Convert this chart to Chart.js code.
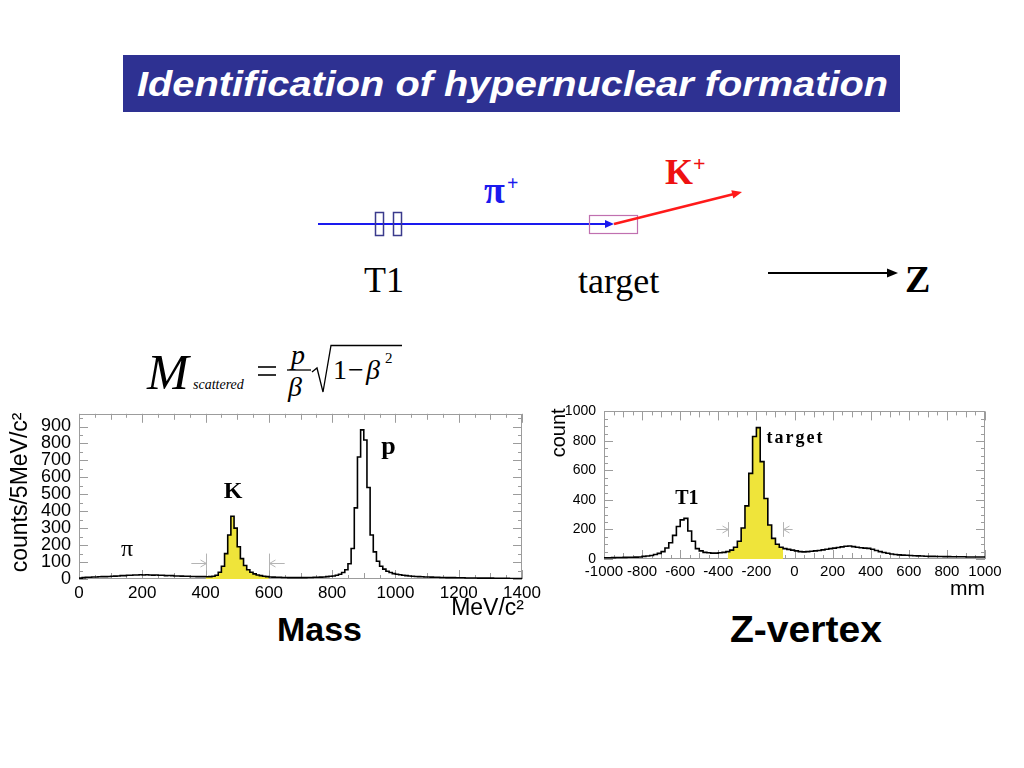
<!DOCTYPE html>
<html><head><meta charset="utf-8">
<script src="https://cdn.jsdelivr.net/npm/chart.js@4"></script>
<style>
body{margin:0;width:1024px;height:768px;background:#fff;position:relative;overflow:hidden;font-family:"Liberation Sans",Arial,sans-serif}
svg{position:absolute;left:0;top:0}
#c1{position:absolute;left:0;top:395px}
#c2{position:absolute;left:540px;top:395px}
</style></head><body>
<svg width="1024" height="768" xmlns="http://www.w3.org/2000/svg">
  <rect x="123" y="55" width="777" height="57" fill="#2e3192"/>
  <text x="137" y="96" fill="#fff" font-family="Liberation Sans, Arial" font-weight="bold" font-style="italic" font-size="35" textLength="751" lengthAdjust="spacingAndGlyphs">Identification of hypernuclear formation</text>

  <line x1="318" y1="224" x2="606" y2="224" stroke="#1a1aee" stroke-width="2"/>
  <polygon points="605,220 614,224 605,228" fill="#1a1aee"/>
  <rect x="375.5" y="212.5" width="8" height="23" fill="none" stroke="#3a3a8c" stroke-width="1.5"/>
  <rect x="393.5" y="212.5" width="8" height="23" fill="none" stroke="#3a3a8c" stroke-width="1.5"/>
  <rect x="589.5" y="215.5" width="48" height="18" fill="none" stroke="#c070b0" stroke-width="1.2"/>
  <line x1="614" y1="224" x2="733" y2="194.3" stroke="#ff1a1a" stroke-width="2.5"/>
  <polygon points="742,192 733.3,198.6 731.3,190.3" fill="#ff1a1a"/>
  <text x="484" y="203" font-family="Liberation Serif, Times New Roman" font-weight="bold" font-size="38" fill="#1a1aee">π</text>
  <text x="507" y="190" font-family="Liberation Serif, Times New Roman" font-weight="bold" font-size="20" fill="#1a1aee">+</text>
  <text x="665" y="184" font-family="Liberation Serif, Times New Roman" font-weight="bold" font-size="36" fill="#ee1111">K</text>
  <text x="693" y="171" font-family="Liberation Serif, Times New Roman" font-weight="bold" font-size="22" fill="#ee1111">+</text>
  <text x="364" y="292" font-family="Liberation Serif, Times New Roman" font-size="36" fill="#000">T1</text>
  <text x="578" y="293" font-family="Liberation Serif, Times New Roman" font-size="36" fill="#000">target</text>
  <line x1="768" y1="273" x2="889" y2="273" stroke="#000" stroke-width="2"/>
  <polygon points="887,268.5 898,273 887,277.5" fill="#000"/>
  <text x="905" y="292" font-family="Liberation Serif, Times New Roman" font-weight="bold" font-size="38" fill="#000">Z</text>

  <g font-family="Liberation Serif, Times New Roman" fill="#000">
    <text x="147" y="389" font-style="italic" font-size="50">M</text>
    <text x="193" y="389" font-style="italic" font-size="14">scattered</text>
    <line x1="258" y1="367" x2="276" y2="367" stroke="#000" stroke-width="1.6"/>
    <line x1="258" y1="375" x2="276" y2="375" stroke="#000" stroke-width="1.6"/>
    <text x="291" y="364" font-style="italic" font-size="28">p</text>
    <line x1="287" y1="370" x2="311" y2="370" stroke="#000" stroke-width="1.3"/>
    <text x="288" y="396" font-style="italic" font-size="28">β</text>
    <path d="M312,372 L317,368 L323,392 L331,345.5 L402,345.5" fill="none" stroke="#000" stroke-width="1.3"/>
    <text x="333" y="379" font-size="28">1</text>
    <text x="348" y="379" font-size="28">−</text>
    <text x="366" y="379" font-style="italic" font-size="28">β</text>
    <text x="385" y="363" font-size="15">2</text>
  </g>

  <text x="277" y="641" font-family="Liberation Sans, Arial" font-weight="bold" font-size="33" textLength="85" lengthAdjust="spacingAndGlyphs">Mass</text>
  <text x="730" y="642" font-family="Liberation Sans, Arial" font-weight="bold" font-size="36" textLength="152" lengthAdjust="spacingAndGlyphs">Z-vertex</text>
</svg>
<canvas id="c1" width="545" height="230"></canvas>
<canvas id="c2" width="480" height="215"></canvas>
<script>
// ---------- data ----------
const massBinStart = 0;      // MeV/c^2
const massBinWidth = 10;
const massCounts = [
  5, 8, 10, 10, 12, 12, 13, 14, 14, 15,
  16, 17, 18, 20, 20, 22, 22, 24, 24, 25,
  24, 25, 24, 23, 24, 22, 22, 20, 21, 20,
  18, 18, 17, 16, 16, 15, 15, 14, 14, 14,
  13, 14, 16, 22, 40, 75, 150, 260, 370, 300,
  190, 120, 80, 55, 40, 30, 24, 20, 16, 14,
  12, 11, 10, 10, 9, 9, 8, 8, 8, 8,
  8, 8, 9, 9, 10, 10, 11, 12, 14, 16,
  18, 22, 28, 38, 55, 90, 180, 420, 720, 880,
  820, 540, 260, 160, 105, 75, 58, 46, 38, 32,
  28, 25, 22, 20, 18, 16, 15, 14, 13, 12,
  12, 11, 10, 10, 9, 9, 8, 8, 8, 7,
  7, 7, 6, 6, 6, 6, 5, 5, 5, 5,
  5, 4, 4, 4, 4, 4, 3, 3, 3, 3
];
const massCut = [400, 600];
const massXTicks = [0, 200, 400, 600, 800, 1000, 1200, 1400];
const massYTicks = [0, 100, 200, 300, 400, 500, 600, 700, 800, 900];

const zBinStart = -1000;     // mm
const zBinWidth = 20;
const zCounts = [
  8, 8, 9, 10, 10, 11, 12, 12, 13, 14,
  18, 20, 24, 30, 38, 50, 75, 110, 160, 220,
  265, 275, 190, 120, 70, 55, 45, 42, 40, 40,
  42, 45, 50, 60, 80, 120, 210, 360, 580, 830,
  890, 660, 410, 230, 140, 100, 80, 70, 65, 60,
  55, 50, 48, 50, 52, 55, 58, 62, 66, 70,
  74, 78, 82, 86, 88, 84, 80, 76, 74, 72,
  66, 58, 50, 44, 39, 34, 30, 28, 26, 25,
  24, 22, 21, 20, 19, 18, 18, 17, 17, 16,
  16, 15, 15, 15, 15, 14, 14, 14, 14, 14
];
const zCut = [-350, -60];
const zXTicks = [-1000, -800, -600, -400, -200, 0, 200, 400, 600, 800, 1000];
const zYTicks = [0, 200, 400, 600, 800, 1000];

// ---------- helpers ----------
function histPoints(start, w, counts) {
  const pts = counts.map((c, i) => ({x: start + i * w, y: c}));
  pts.push({x: start + counts.length * w, y: counts[counts.length - 1]});
  return pts;
}
function cutPoints(start, w, counts, lo, hi) {
  const pts = [];
  counts.forEach((c, i) => {
    const a = start + i * w, b = a + w;
    if (b > lo && a < hi) pts.push({x: Math.max(a, lo), y: c});
  });
  pts.push({x: hi, y: pts[pts.length - 1].y});
  return pts;
}

function decorPlugin(o) {
  return {
    id: 'decor',
    beforeDatasetsDraw(chart) {
      const {ctx, chartArea: a} = chart;
      const x = chart.scales.x, y = chart.scales.y;
      ctx.save();
      ctx.strokeStyle = '#9c9c9c';
      ctx.lineWidth = 1;
      ctx.strokeRect(Math.round(a.left) + 0.5, Math.round(a.top) + 0.5,
                     Math.round(a.right - a.left) - 1, Math.round(a.bottom - a.top) - 1);
      ctx.beginPath();
      for (let v = x.min; v <= x.max + 1e-6; v += o.xMinor) {
        const px = Math.round(x.getPixelForValue(v)) + 0.5;
        const L = Math.abs(v % o.xMajor) < 1e-6 ? 9 : (Math.abs(v % (o.xMajor / 2)) < 1e-6 ? 6 : 4);
        ctx.moveTo(px, a.bottom); ctx.lineTo(px, a.bottom - L);
        ctx.moveTo(px, a.top); ctx.lineTo(px, a.top + L);
      }
      for (let v = y.min; v <= y.max + 1e-6; v += o.yMinor) {
        const py = Math.round(y.getPixelForValue(v)) + 0.5;
        const L = Math.abs(v % o.yMajor) < 1e-6 ? 9 : 4;
        ctx.moveTo(a.left, py); ctx.lineTo(a.left + L, py);
        ctx.moveTo(a.right, py); ctx.lineTo(a.right - L, py);
      }
      ctx.stroke();
      // cut markers
      ctx.strokeStyle = '#b4b4b4';
      o.cuts.forEach(c => {
        const px = Math.round(x.getPixelForValue(c.v)) + 0.5;
        const y0 = y.getPixelForValue(c.yLo), y1 = y.getPixelForValue(c.yHi);
        const ym = Math.round(y.getPixelForValue(c.yArr)) + 0.5;
        const pe = x.getPixelForValue(c.v + c.dir * c.len);
        ctx.beginPath();
        ctx.moveTo(px, y0); ctx.lineTo(px, y1);
        ctx.moveTo(pe, ym); ctx.lineTo(px, ym);
        const s = c.dir;
        ctx.moveTo(px + s * 6, ym - 3.5); ctx.lineTo(px, ym); ctx.lineTo(px + s * 6, ym + 3.5);
        ctx.stroke();
      });
      ctx.restore();
    },
    afterDatasetsDraw(chart) {
      const {ctx, chartArea: a} = chart;
      const x = chart.scales.x, y = chart.scales.y;
      ctx.save();
      ctx.fillStyle = '#000';
      o.labels.forEach(l => {
        ctx.font = l.font;
        ctx.letterSpacing = l.ls || '0px';
        ctx.textAlign = 'center';
        ctx.textBaseline = 'alphabetic';
        ctx.fillText(l.t, x.getPixelForValue(l.x), y.getPixelForValue(l.y));
      });
      ctx.letterSpacing = '0px';
      // axis titles
      ctx.font = o.xTitleFont;
      ctx.textAlign = 'right';
      ctx.textBaseline = 'alphabetic';
      ctx.fillText(o.xTitle, a.right + o.xTitleDx, a.bottom + o.xTitleDy);
      ctx.save();
      ctx.font = o.yTitleFont;
      ctx.translate(o.yTitleX, o.yTitleAlign === 'center' ? (a.top + a.bottom) / 2 - 4 : a.top - 3);
      ctx.rotate(-Math.PI / 2);
      ctx.textAlign = o.yTitleAlign === 'center' ? 'center' : 'right';
      ctx.fillText(o.yTitle, 0, 0);
      ctx.restore();
      ctx.restore();
    }
  };
}

function makeChart(id, cfg) {
  return new Chart(document.getElementById(id), {
    type: 'line',
    data: {
      datasets: [
        {data: cfg.hist, stepped: 'before', borderColor: '#000', borderWidth: 1.6,
         pointRadius: 0, fill: false, order: 0},
        {data: cfg.cut, stepped: 'before', borderWidth: 0, borderColor: 'rgba(0,0,0,0)',
         backgroundColor: '#efe43a', pointRadius: 0, fill: 'origin', order: 1}
      ]
    },
    options: {
      responsive: false, animation: false, events: [],
      layout: {padding: cfg.pad},
      plugins: {legend: {display: false}, tooltip: {enabled: false}},
      scales: {
        x: {
          type: 'linear', min: cfg.xMin, max: cfg.xMax,
          afterBuildTicks: s => { s.ticks = cfg.xTicks.map(v => ({value: v})); },
          afterFit: s => { s.height = cfg.xH; },
          grid: {display: false, drawTicks: false},
          border: {display: false},
          ticks: {autoSkip: false, maxRotation: 0, padding: cfg.xPad, color: '#000',
                  callback: v => String(v),
                  font: {family: 'Liberation Sans, Arial', size: cfg.xFont}}
        },
        y: {
          type: 'linear', min: 0, max: cfg.yMax,
          afterBuildTicks: s => { s.ticks = cfg.yTicks.map(v => ({value: v})); },
          afterFit: s => { s.width = cfg.yW; },
          grid: {display: false, drawTicks: false},
          border: {display: false},
          ticks: {autoSkip: false, padding: cfg.yPad, color: '#000',
                  callback: v => String(v),
                  font: {family: 'Liberation Sans, Arial', size: cfg.yFont}}
        }
      }
    },
    plugins: [decorPlugin(cfg.decor)]
  });
}

makeChart('c1', {
  hist: histPoints(massBinStart, massBinWidth, massCounts),
  cut: cutPoints(massBinStart, massBinWidth, massCounts, massCut[0], massCut[1]),
  xMin: 0, xMax: 1400, yMax: 975,
  xTicks: massXTicks, yTicks: massYTicks,
  pad: {top: 8, right: 23, left: 0, bottom: 0},
  xH: 46, yW: 79, xPad: 4, yPad: 8, xFont: 17, yFont: 18,
  decor: {
    xMinor: 50, xMajor: 200, yMinor: 50, yMajor: 100,
    cuts: [
      {v: massCut[0], dir: -1, len: 45, yLo: 50, yHi: 150, yArr: 96},
      {v: massCut[1], dir: 1, len: 50, yLo: 50, yHi: 150, yArr: 96}
    ],
    labels: [
      {t: 'π', x: 152, y: 135, font: '24px "Liberation Serif", serif'},
      {t: 'K', x: 487, y: 480, font: 'bold 24px "Liberation Serif", serif'},
      {t: 'p', x: 978, y: 740, font: 'bold 26px "Liberation Serif", serif'}
    ],
    xTitle: 'MeV/c²', xTitleFont: '23px "Liberation Sans", Arial', xTitleDx: 2, xTitleDy: 36,
    yTitle: 'counts/5MeV/c²', yTitleFont: '23px "Liberation Sans", Arial', yTitleX: 27, yTitleAlign: 'center'
  }
});

makeChart('c2', {
  hist: histPoints(zBinStart, zBinWidth, zCounts),
  cut: cutPoints(zBinStart, zBinWidth, zCounts, zCut[0], zCut[1]),
  xMin: -1000, xMax: 1000, yMax: 1000,
  xTicks: zXTicks, yTicks: zYTicks,
  pad: {top: 11, right: 35, left: 0, bottom: 0},
  xH: 51, yW: 64, xPad: 4, yPad: 8, xFont: 15, yFont: 14,
  decor: {
    xMinor: 50, xMajor: 200, yMinor: 50, yMajor: 200,
    cuts: [
      {v: zCut[0], dir: -1, len: 60, yLo: 150, yHi: 250, yArr: 205},
      {v: zCut[1], dir: 1, len: 50, yLo: 150, yHi: 250, yArr: 205}
    ],
    labels: [
      {t: 'T1', x: -565, y: 370, font: 'bold 20px "Liberation Serif", serif'},
      {t: 'target', x: 5, y: 785, font: 'bold 18px "Liberation Serif", serif', ls: '2px'}
    ],
    xTitle: 'mm', xTitleFont: '21px "Liberation Sans", Arial', xTitleDx: 0, xTitleDy: 36,
    yTitle: 'count', yTitleFont: '20px "Liberation Sans", Arial', yTitleX: 25, yTitleAlign: 'end'
  }
});
</script>
</body></html>
